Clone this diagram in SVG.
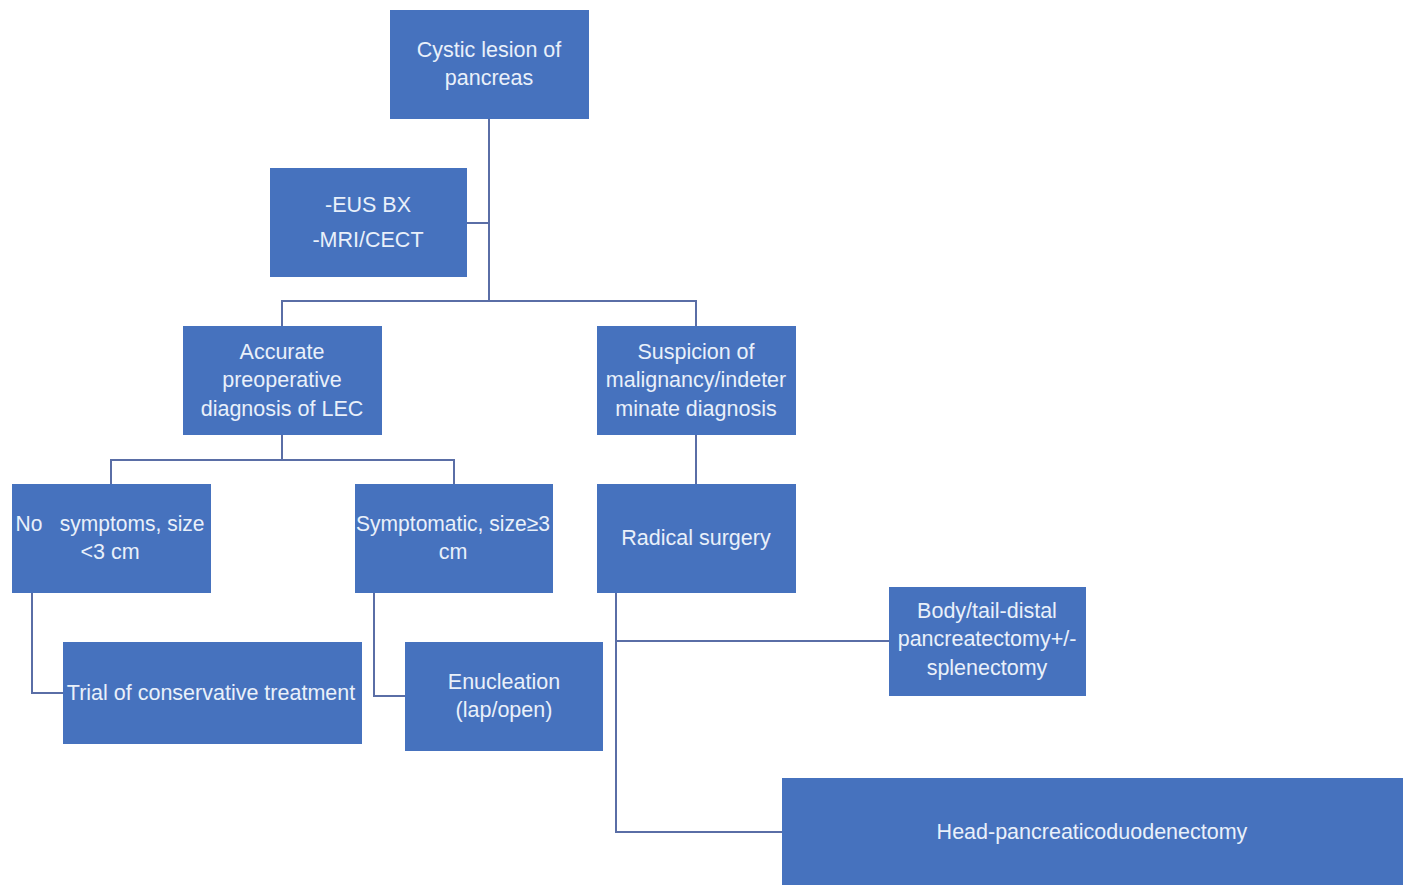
<svg xmlns="http://www.w3.org/2000/svg" width="1408" height="885" viewBox="0 0 1408 885">
<style>
.box{fill:#4672BE;}
.t{font-family:"Liberation Sans",Arial,sans-serif;font-size:21.5px;fill:#E9F0FA;text-anchor:middle;}
.c{stroke:#5A6EA6;stroke-width:2;fill:none;}
</style>
<rect width="1408" height="885" fill="#FFFFFF"/>
<g id="connectors">
<path class="c" d="M489 119 V301 M467 223 H489 M282 326 V301 H696 V326"/>
<path class="c" d="M282 435 V460 M111 484 V460 H454 V484"/>
<path class="c" d="M696 435 V484"/>
<path class="c" d="M32 593 V693 H63"/>
<path class="c" d="M374 593 V696 H405"/>
<path class="c" d="M616 593 V832 H782 M616 641 H889"/>
</g>
<g id="root"><rect class="box" x="390" y="10" width="199" height="109"/>
<text class="t" x="489" y="57">Cystic lesion of</text><text class="t" x="489" y="85">pancreas</text></g>
<g id="tests"><rect class="box" x="270" y="168" width="197" height="109"/>
<text class="t" x="368" y="212">-EUS BX</text><text class="t" x="368" y="247">-MRI/CECT</text></g>
<g id="accurate"><rect class="box" x="183" y="326" width="199" height="109"/>
<text class="t" x="282" y="359">Accurate</text><text class="t" x="282" y="387">preoperative</text><text class="t" x="282" y="416">diagnosis of LEC</text></g>
<g id="suspicion"><rect class="box" x="597" y="326" width="199" height="109"/>
<text class="t" x="696" y="359">Suspicion of</text><text class="t" x="696" y="387">malignancy/indeter</text><text class="t" x="696" y="416">minate diagnosis</text></g>
<g id="nosymptoms"><rect class="box" x="12" y="484" width="199" height="109"/>
<text class="t" x="110" y="531" xml:space="preserve" textLength="189" lengthAdjust="spacingAndGlyphs">No   symptoms, size</text><text class="t" x="110" y="559">&lt;3 cm</text></g>
<g id="symptomatic"><rect class="box" x="355" y="484" width="198" height="109"/>
<text class="t" x="453" y="531" textLength="194" lengthAdjust="spacingAndGlyphs">Symptomatic, size≥3</text><text class="t" x="453" y="559">cm</text></g>
<g id="radical"><rect class="box" x="597" y="484" width="199" height="109"/>
<text class="t" x="696" y="545">Radical surgery</text></g>
<g id="trial"><rect class="box" x="63" y="642" width="299" height="102"/>
<text class="t" x="211" y="700">Trial of conservative treatment</text></g>
<g id="enucleation"><rect class="box" x="405" y="642" width="198" height="109"/>
<text class="t" x="504" y="689">Enucleation</text><text class="t" x="504" y="717">(lap/open)</text></g>
<g id="bodytail"><rect class="box" x="889" y="587" width="197" height="109"/>
<text class="t" x="987" y="618">Body/tail-distal</text><text class="t" x="987" y="646">pancreatectomy+/-</text><text class="t" x="987" y="675">splenectomy</text></g>
<g id="head"><rect class="box" x="782" y="778" width="621" height="107"/>
<text class="t" x="1092" y="839">Head-pancreaticoduodenectomy</text></g>
</svg>
